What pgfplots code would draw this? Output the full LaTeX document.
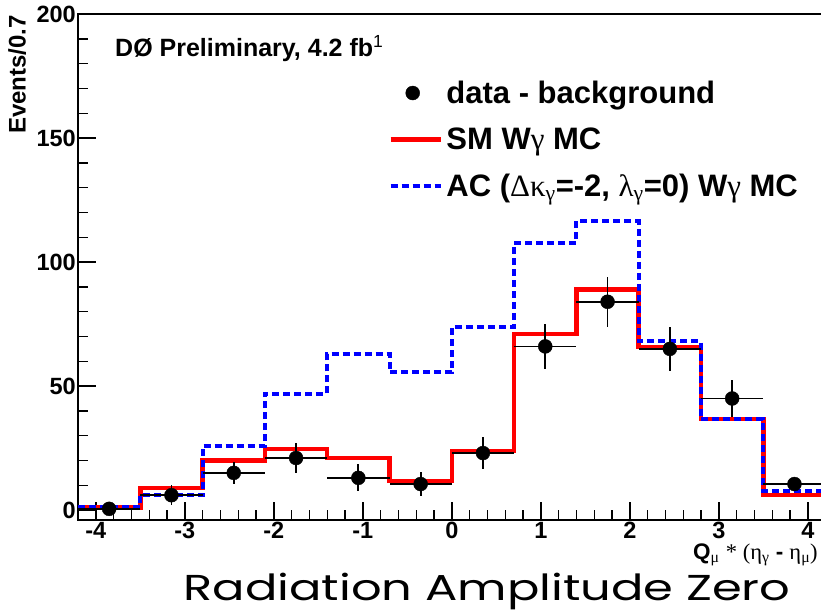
\documentclass[border=0pt]{standalone}
\usepackage{fontspec}
\setmainfont{Liberation Sans}
\newfontfamily\grk{Liberation Serif}
\newfontfamily\ttl{Poppins}
\usepackage{graphicx}
\usepackage{pgfplots}
\pgfplotsset{compat=1.18}

\definecolor{smred}{RGB}{255,0,0}
\definecolor{acblue}{RGB}{0,0,255}
\newcommand{\g}[1]{{\grk\mdseries #1}}

\begin{document}
\begin{tikzpicture}[x=1pt,y=1pt]
\useasboundingbox (0,0) rectangle (821,614);
\begin{axis}[
  at={(78pt,94pt)}, anchor=south west,
  scale only axis, width=747.6pt, height=505.9pt,
  xmin=-4.2, xmax=4.2, ymin=-4, ymax=200,
  axis line style={line width=1.6pt},
  tick align=inside, xtick pos=bottom, ytick pos=left,
  xtick={-4,-3,-2,-1,0,1,2,3,4},
  xticklabels={-4,-3,-2,-1,0,1,2,3,4},
  minor x tick num=4,
  ytick={0,50,100,150,200},
  yticklabels={0,50,100,150,200},
  minor y tick num=4,
  major tick length=18pt, minor tick length=10pt,
  tick style={line width=1.4pt, black},
  ticklabel style={font=\fontsize{23.5}{26}\selectfont\bfseries},
  xticklabel style={inner sep=2pt},
  yticklabel style={inner sep=2pt},
  legend cell align=left,
  legend style={at={(rel axis cs:0.415,0.875)}, anchor=north west,
    draw=none, fill=none, inner sep=0pt,
    font=\fontsize{31}{37}\selectfont\bfseries,
    row sep=16pt, nodes={inner sep=3.5pt}},
]
% SM W-gamma MC, bins of width 0.7 (left edges)
\addplot[const plot mark left, smred, line width=4.5pt, forget plot]
  coordinates {(-4.2,1) (-3.5,9) (-2.8,20) (-2.1,24.6) (-1.4,21) (-0.7,11.7)
               (0,23.8) (0.7,71) (1.4,89) (2.1,65.7) (2.8,36.7) (3.5,6) (4.2,6)};
% anomalous coupling MC
\addplot[const plot mark left, acblue, line width=4pt, dash pattern=on 7pt off 4pt, forget plot]
  coordinates {(-4.2,1.2) (-3.5,6) (-2.8,26) (-2.1,47) (-1.4,63) (-0.7,55.6)
               (0,74) (0.7,107.7) (1.4,116.5) (2.1,68) (2.8,36.7) (3.5,7.6) (4.2,7.6)};
% data minus background
\addplot[only marks, mark=*, mark size=7pt, black, forget plot,
  error bars/.cd, x dir=both, x explicit, y dir=both, y explicit,
  error mark=none, error bar style={line width=1.8pt, black}]
  coordinates {
    (-3.85,0.5) +- (0.35,1.5)
    (-3.15,6) +- (0.35,4)
    (-2.45,15) +- (0.35,4.5)
    (-1.75,21) +- (0.35,6)
    (-1.05,13) +- (0.35,5.5)
    (-0.35,10.5) +- (0.35,5)
    (0.35,23) +- (0.35,6.3)
    (1.05,66) +- (0.35,9)
    (1.75,84) +- (0.35,10)
    (2.45,65) +- (0.35,9)
    (3.15,45) +- (0.35,7.4)
    (3.85,10.5) +- (0.35,3)
  };
\addlegendimage{legend image code/.code={\fill[black] (22pt,0pt) circle (7pt);}}
\addlegendentry{data - background}
\addlegendimage{legend image code/.code={\draw[smred, line width=4.5pt] (0pt,0pt) -- (50pt,0pt);}}
\addlegendentry{SM W\g{γ} MC}
\addlegendimage{legend image code/.code={\draw[acblue, line width=4pt, dash pattern=on 7pt off 4pt] (0pt,0pt) -- (50pt,0pt);}}
\addlegendentry{AC (\g{Δκ}\textsubscript{\g{γ}}=-2, \g{λ}\textsubscript{\g{γ}}=0) W\g{γ} MC}
\end{axis}
\node[anchor=base west, inner sep=0pt, font=\fontsize{25}{30}\selectfont\bfseries]
  at (115,557) {DØ Preliminary, 4.2 fb\textsuperscript{\mdseries 1}};
\node[rotate=90, anchor=north east, inner sep=0pt, font=\fontsize{24}{28}\selectfont\bfseries]
  at (8,599) {Events/0.7};
\node[anchor=base west, inner sep=0pt, font=\fontsize{22.5}{26}\selectfont\bfseries]
  at (693,55) {Q\textsubscript{\g{μ}} \g{* (η\textsubscript{γ}} - \g{η\textsubscript{μ})}};
\node[anchor=base, inner sep=0pt] at (487,14)
  {\resizebox{607pt}{\height}{\fontsize{36}{42}\selectfont\ttl Radiation Amplitude Zero}};
\end{tikzpicture}
\end{document}
